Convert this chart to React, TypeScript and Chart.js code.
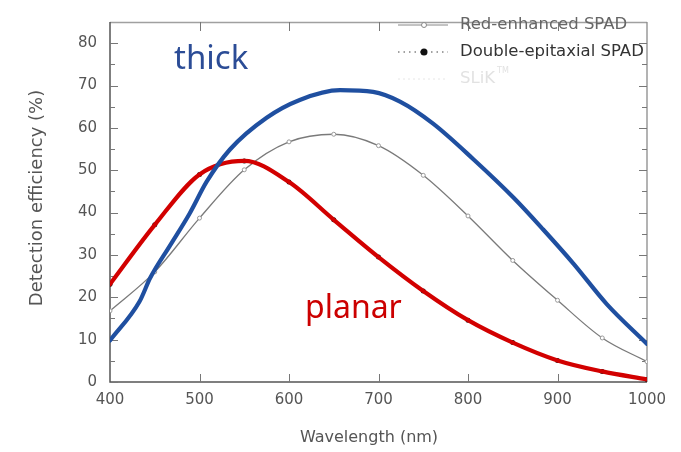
import React, { useEffect, useRef } from 'react';
import { Chart, registerables } from 'chart.js';

Chart.register(...registerables);

// ---- data ----
const wavelengths = [400, 450, 500, 550, 600, 650, 700, 750, 800, 850, 900, 950, 1000];
const redEnhancedSPAD = [16.8, 26, 38.7, 50.1, 56.7, 58.5, 55.8, 48.8, 39.2, 28.7, 19.3, 10.4, 4.8];
const doubleEpitaxialSPAD = [23.1, 37.1, 49.0, 52.2, 47.2, 38.3, 29.5, 21.5, 14.6, 9.3, 5.1, 2.5, 0.6];
const thickWavelengths = [400, 433, 445, 467, 489, 508, 534, 575, 612, 657, 694, 724, 761, 806, 851, 884, 918, 955, 1000];
const thickEfficiency = [9.8, 19, 24.6, 32.2, 39.8, 47.3, 54.9, 62.4, 66.6, 68.9, 68.5, 66.2, 61, 52.6, 43.5, 36, 27.9, 18.4, 9];
const xTicks = [400, 500, 600, 700, 800, 900, 1000];
const yTicks = [0, 10, 20, 30, 40, 50, 60, 70, 80];
const yMinorTicks = [5, 15, 25, 35, 45, 55, 65, 75];
const legendLabels = ['Red-enhanced SPAD', 'Double-epitaxial SPAD', 'SLiK'];
const xTitle = 'Wavelength (nm)';
const yTitle = 'Detection efficiency (%)';
const thickLabel = 'thick';
const planarLabel = 'planar';

const toPoints = (xs: number[], ys: number[]) => xs.map((x, i) => ({ x, y: ys[i] }));

const overlayPlugin = {
  id: 'overlay',
  beforeDatasetsDraw(chart: any) {
    const { ctx, chartArea: a, scales } = chart;
    const xs = scales.x;
    const ys = scales.y;
    ctx.save();
    // frame
    ctx.lineWidth = 1.3;
    ctx.strokeStyle = '#a0a0a0';
    ctx.beginPath();
    ctx.moveTo(a.left, a.top + 0.5);
    ctx.lineTo(a.right, a.top + 0.5);
    ctx.stroke();
    ctx.strokeStyle = '#8a8a8a';
    ctx.beginPath();
    ctx.moveTo(a.right, a.top);
    ctx.lineTo(a.right, a.bottom);
    ctx.stroke();
    ctx.strokeStyle = '#555';
    ctx.lineWidth = 1.5;
    ctx.beginPath();
    ctx.moveTo(a.left, a.top);
    ctx.lineTo(a.left, a.bottom);
    ctx.lineTo(a.right, a.bottom);
    ctx.stroke();
    // y ticks
    ctx.lineWidth = 1;
    ctx.strokeStyle = '#777';
    const drawY = (v: number, len: number) => {
      const y = Math.round(ys.getPixelForValue(v)) + 0.5;
      ctx.beginPath();
      ctx.moveTo(a.left, y);
      ctx.lineTo(a.left + len, y);
      ctx.moveTo(a.right, y);
      ctx.lineTo(a.right - len, y);
      ctx.stroke();
    };
    yTicks.forEach((v) => drawY(v, 8));
    yMinorTicks.forEach((v) => drawY(v, 5));
    // x ticks
    xTicks.slice(1, -1).forEach((v) => {
      const x = Math.round(xs.getPixelForValue(v)) + 0.5;
      ctx.beginPath();
      ctx.moveTo(x, a.bottom);
      ctx.lineTo(x, a.bottom - 8);
      ctx.moveTo(x, a.top);
      ctx.lineTo(x, a.top + 9);
      ctx.stroke();
    });
    ctx.restore();
  },
  afterDraw(chart: any) {
    const { ctx } = chart;
    ctx.save();
    // axis titles
    ctx.fillStyle = '#555';
    ctx.font = '16px "DejaVu Sans"';
    ctx.textAlign = 'center';
    ctx.textBaseline = 'middle';
    ctx.fillText(xTitle, 369, 438);
    ctx.save();
    ctx.translate(37, 198);
    ctx.rotate(-Math.PI / 2);
    ctx.font = '18px "DejaVu Sans"';
    ctx.fillText(yTitle, 0, 0);
    ctx.restore();

    // legend
    const lx0 = 398, lx1 = 448, mx = 424, tx = 460;
    const rows = [25, 52, 79];
    ctx.textAlign = 'left';
    ctx.textBaseline = 'middle';
    ctx.font = '16.5px "DejaVu Sans"';
    // row 1
    ctx.strokeStyle = '#888';
    ctx.lineWidth = 1;
    ctx.beginPath();
    ctx.moveTo(lx0, rows[0]);
    ctx.lineTo(lx1, rows[0]);
    ctx.stroke();
    ctx.fillStyle = '#fff';
    ctx.beginPath();
    ctx.arc(mx, rows[0], 2.5, 0, Math.PI * 2);
    ctx.fill();
    ctx.stroke();
    ctx.fillStyle = '#666';
    ctx.fillText(legendLabels[0], tx, rows[0]);
    // row 2
    ctx.strokeStyle = '#444';
    ctx.setLineDash([1.5, 4]);
    ctx.beginPath();
    ctx.moveTo(lx0, rows[1]);
    ctx.lineTo(lx1, rows[1]);
    ctx.stroke();
    ctx.setLineDash([]);
    ctx.fillStyle = '#111';
    ctx.beginPath();
    ctx.arc(mx, rows[1], 3.5, 0, Math.PI * 2);
    ctx.fill();
    ctx.fillStyle = '#333';
    ctx.fillText(legendLabels[1], tx, rows[1]);
    // row 3 (faint)
    ctx.strokeStyle = '#e6e6e6';
    ctx.setLineDash([2, 3]);
    ctx.beginPath();
    ctx.moveTo(lx0, rows[2]);
    ctx.lineTo(lx1, rows[2]);
    ctx.stroke();
    ctx.setLineDash([]);
    ctx.fillStyle = '#e2e2e2';
    ctx.fillText(legendLabels[2], tx, rows[2]);
    const w = ctx.measureText(legendLabels[2]).width;
    ctx.font = '8px "DejaVu Sans"';
    ctx.fillText('TM', tx + w + 2, rows[2] - 8);

    // annotations
    ctx.textBaseline = 'alphabetic';
    ctx.font = '33px "Noto Sans"';
    ctx.fillStyle = '#2b4c96';
    ctx.fillText(thickLabel, 174, 69);
    ctx.font = '32px "Noto Sans"';
    ctx.fillStyle = '#cc0000';
    ctx.fillText(planarLabel, 305, 318);
    ctx.restore();
  },
};

export default function App() {
  const ref = useRef<HTMLCanvasElement>(null);
  useEffect(() => {
    document.body.style.margin = '0';
    const canvas = ref.current!;
    const chart = new Chart(canvas, {
      type: 'scatter',
      data: {
        datasets: [
          {
            label: 'thick',
            data: toPoints(thickWavelengths, thickEfficiency),
            showLine: true,
            borderColor: '#1f4fa0',
            borderWidth: 4.2,
            pointRadius: 0,
            cubicInterpolationMode: 'monotone',
            borderCapStyle: 'round',
            borderJoinStyle: 'round',
            order: 0,
          } as any,
          {
            label: 'planar',
            data: toPoints(wavelengths, doubleEpitaxialSPAD),
            showLine: true,
            borderColor: '#d20000',
            borderWidth: 4.2,
            pointRadius: 0,
            cubicInterpolationMode: 'monotone',
            borderCapStyle: 'round',
            borderJoinStyle: 'round',
            order: 1,
          } as any,
          {
            label: legendLabels[1],
            data: toPoints(wavelengths, doubleEpitaxialSPAD),
            showLine: false,
            pointRadius: 2.5,
            pointBackgroundColor: '#111',
            pointBorderWidth: 0,
            order: 2,
          } as any,
          {
            label: legendLabels[0],
            data: toPoints(wavelengths, redEnhancedSPAD),
            showLine: true,
            borderColor: '#7a7a7a',
            borderWidth: 1.3,
            pointRadius: 2,
            pointBorderColor: '#999',
            pointBackgroundColor: '#fff',
            pointBorderWidth: 1,
            cubicInterpolationMode: 'monotone',
            order: 3,
          } as any,
        ],
      },
      options: {
        animation: false,
        responsive: false,
        devicePixelRatio: 1,
        layout: { padding: { left: 0, right: 34, top: 7, bottom: 0 } },
        plugins: { legend: { display: false }, tooltip: { enabled: false } },
        scales: {
          x: {
            type: 'linear',
            min: 400,
            max: 1000,
            grid: { display: false, drawTicks: false },
            border: { display: false },
            afterBuildTicks: (s: any) => {
              s.ticks = xTicks.map((v) => ({ value: v }));
            },
            afterFit: (s: any) => {
              s.height = 70;
            },
            ticks: {
              autoSkip: false,
              maxRotation: 0,
              padding: 9,
              color: '#555',
              font: { family: '"DejaVu Sans"', size: 15 },
              callback: (v: any) => String(v),
            },
          },
          y: {
            type: 'linear',
            min: 0,
            max: 85,
            grid: { display: false, drawTicks: false },
            border: { display: false },
            afterBuildTicks: (s: any) => {
              s.ticks = yTicks.map((v) => ({ value: v }));
            },
            afterFit: (s: any) => {
              s.width = 110;
            },
            ticks: {
              padding: 13,
              color: '#555',
              font: { family: '"DejaVu Sans"', size: 15 },
              callback: (v: any) => String(v),
            },
          },
        },
      },
      plugins: [overlayPlugin],
    });
    return () => chart.destroy();
  }, []);
  return <canvas ref={ref} width={681} height={452} style={{ display: 'block' }} />;
}
